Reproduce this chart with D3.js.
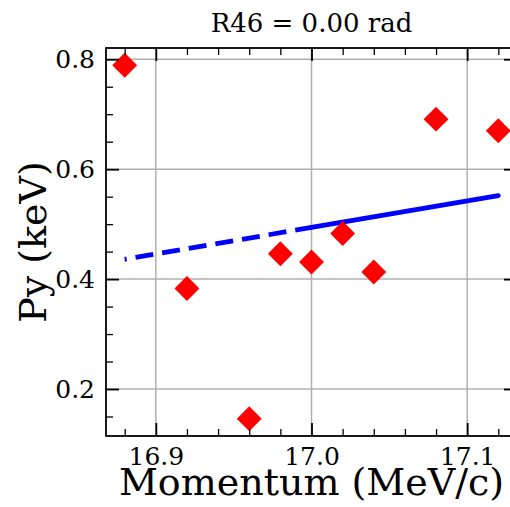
<!DOCTYPE html>
<html>
<head>
<meta charset="utf-8">
<script src="https://cdn.jsdelivr.net/npm/d3@7"></script>
<style>
  body { margin: 0; background: #fff; }
  svg { display: block; }
  text { font-family: "DejaVu Serif", serif; fill: #000; }
</style>
</head>
<body>
<div id="chart"></div>
<script>
// measured points
var momentum = [16.88, 16.92, 16.96, 16.98, 17.00, 17.02, 17.04, 17.08, 17.12];
var py       = [0.789, 0.383, 0.146, 0.446, 0.431, 0.483, 0.413, 0.691, 0.670];

// fit line: dashed part and solid part
var fitDashedX = [16.88, 17.00];
var fitDashedY = [0.436, 0.494];
var fitSolidX  = [17.00, 17.12];
var fitSolidY  = [0.494, 0.552];

var xMajor = [16.9, 17.0, 17.1];
var xTickLabels = ["16.9", "17.0", "17.1"];
var xMinor = [16.88, 16.92, 16.94, 16.96, 16.98, 17.02, 17.04, 17.06, 17.08, 17.12];
var yMajor = [0.2, 0.4, 0.6, 0.8];
var yTickLabels = ["0.2", "0.4", "0.6", "0.8"];
var yMinor = [0.15, 0.25, 0.3, 0.35, 0.45, 0.5, 0.55, 0.65, 0.7, 0.75];

var W = 510, H = 507,
    axL = 106, axR = 517, axT = 48, axB = 436;

var svg = d3.select('#chart').append('svg')
  .attr('width', W)
  .attr('height', H);

var x = d3.scaleLinear().domain([16.868, 17.132]).range([axL, axR]);
var y = d3.scaleLinear().domain([0.1145, 0.8205]).range([axB, axT]);

// grid
var grid = svg.append('g').attr('stroke', '#b0b0b0').attr('stroke-width', 1.5);
grid.selectAll('.gx').data(xMajor).enter().append('line')
  .attr('x1', d => x(d)).attr('x2', d => x(d))
  .attr('y1', axT).attr('y2', axB);
grid.selectAll('.gy').data(yMajor).enter().append('line')
  .attr('x1', axL).attr('x2', axR)
  .attr('y1', d => y(d)).attr('y2', d => y(d));

// fit line
var line = d3.line().x(d => x(d[0])).y(d => y(d[1]));
svg.append('path')
  .datum(d3.zip(fitDashedX, fitDashedY))
  .attr('d', line)
  .attr('fill', 'none')
  .attr('stroke', '#0000ff')
  .attr('stroke-width', 4.8)
  .attr('stroke-dasharray', '18,9')
  .attr('stroke-dashoffset', 16);
svg.append('path')
  .datum(d3.zip(fitSolidX, fitSolidY))
  .attr('d', line)
  .attr('fill', 'none')
  .attr('stroke', '#0000ff')
  .attr('stroke-width', 4.8)
  .attr('stroke-linecap', 'round');

// markers
var diamond = d3.symbol().type(d3.symbolSquare).size(310);
svg.append('g').selectAll('path')
  .data(d3.zip(momentum, py))
  .enter().append('path')
  .attr('d', diamond)
  .attr('transform', d => 'translate(' + x(d[0]) + ',' + y(d[1]) + ') rotate(45)')
  .attr('fill', '#ff0000');

// axes, ticks pointing inward
function styleAxis(g, w) {
  g.select('.domain').remove();
  g.selectAll('line').attr('stroke', '#000').attr('stroke-width', w);
  g.selectAll('text').style('font-size', '25px').style('font-family', '"DejaVu Serif", serif');
}
function ticksOnly(g, w) {
  styleAxis(g, w);
  g.selectAll('text').remove();
}

svg.append('g').attr('transform', 'translate(0,' + axB + ')')
  .call(d3.axisBottom(x).tickValues(xMajor).tickFormat((d, i) => xTickLabels[i])
    .tickSizeInner(-13).tickSizeOuter(0).tickPadding(11))
  .call(g => styleAxis(g, 1.8));
svg.append('g').attr('transform', 'translate(0,' + axB + ')')
  .call(d3.axisBottom(x).tickValues(xMinor).tickSizeInner(-7).tickSizeOuter(0))
  .call(g => ticksOnly(g, 1.3));
svg.append('g').attr('transform', 'translate(0,' + axT + ')')
  .call(d3.axisTop(x).tickValues(xMajor).tickSizeInner(-13).tickSizeOuter(0))
  .call(g => ticksOnly(g, 1.8));
svg.append('g').attr('transform', 'translate(0,' + axT + ')')
  .call(d3.axisTop(x).tickValues(xMinor).tickSizeInner(-7).tickSizeOuter(0))
  .call(g => ticksOnly(g, 1.3));

svg.append('g').attr('transform', 'translate(' + axL + ',0)')
  .call(d3.axisLeft(y).tickValues(yMajor).tickFormat((d, i) => yTickLabels[i])
    .tickSizeInner(-13).tickSizeOuter(0).tickPadding(11))
  .call(g => styleAxis(g, 1.8));
svg.append('g').attr('transform', 'translate(' + axL + ',0)')
  .call(d3.axisLeft(y).tickValues(yMinor).tickSizeInner(-7).tickSizeOuter(0))
  .call(g => ticksOnly(g, 1.3));
svg.append('g').attr('transform', 'translate(' + axR + ',0)')
  .call(d3.axisRight(y).tickValues(yMajor).tickSizeInner(-13).tickSizeOuter(0))
  .call(g => ticksOnly(g, 1.8));
svg.append('g').attr('transform', 'translate(' + axR + ',0)')
  .call(d3.axisRight(y).tickValues(yMinor).tickSizeInner(-7).tickSizeOuter(0))
  .call(g => ticksOnly(g, 1.3));

// spines
svg.append('rect')
  .attr('x', axL).attr('y', axT)
  .attr('width', axR - axL).attr('height', axB - axT)
  .attr('fill', 'none').attr('stroke', '#000').attr('stroke-width', 1.8);

// title and labels
svg.append('text')
  .attr('x', (axL + axR) / 2).attr('y', 32)
  .attr('text-anchor', 'middle')
  .style('font-size', '26px')
  .text('R46 = 0.00 rad');

svg.append('text')
  .attr('x', (axL + axR) / 2).attr('y', 495)
  .attr('text-anchor', 'middle')
  .style('font-size', '38px')
  .text('Momentum (MeV/c)');

svg.append('text')
  .attr('transform', 'translate(46,' + (axT + axB) / 2 + ') rotate(-90)')
  .attr('text-anchor', 'middle')
  .style('font-size', '38px')
  .text('Py (keV)');
</script>
</body>
</html>
